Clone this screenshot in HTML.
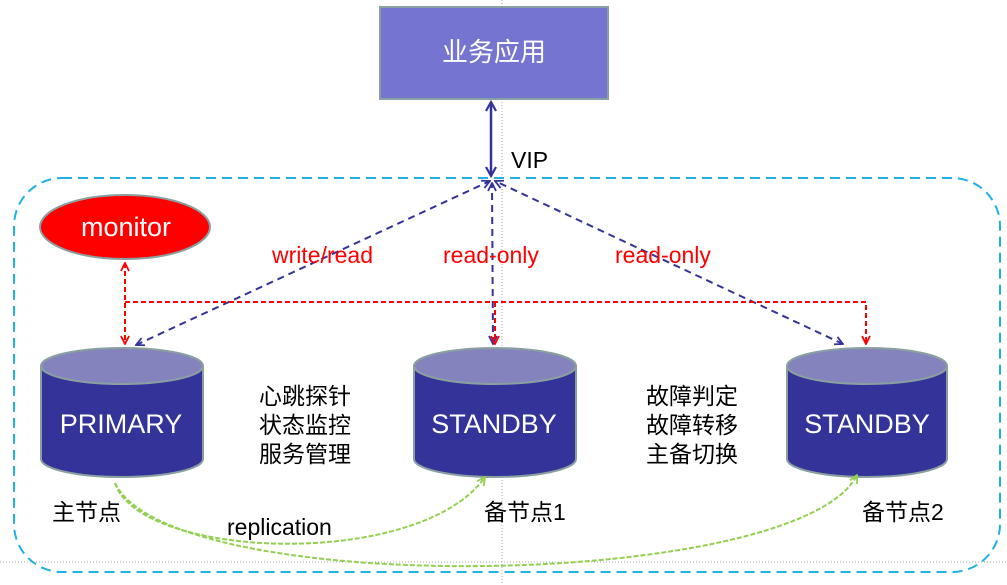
<!DOCTYPE html>
<html><head><meta charset="utf-8"><style>
html,body{margin:0;padding:0;background:#fff;width:1007px;height:585px;overflow:hidden}
svg{display:block}
text{font-family:"Liberation Sans","Noto Sans CJK SC",sans-serif}
</style></head><body>
<svg width="1007" height="585" viewBox="0 0 1007 585" xmlns="http://www.w3.org/2000/svg">
<defs>
<marker id="ob" markerWidth="10" markerHeight="10" refX="9" refY="5" orient="auto-start-reverse" markerUnits="userSpaceOnUse"><path d="M1,1 L9,5 L1,9" fill="none" stroke="#333399" stroke-width="1.8"/></marker>
<marker id="or" markerWidth="10" markerHeight="10" refX="9" refY="5" orient="auto-start-reverse" markerUnits="userSpaceOnUse"><path d="M1,1 L9,5 L1,9" fill="none" stroke="#ff0000" stroke-width="1.8"/></marker>
<marker id="og" markerWidth="10" markerHeight="10" refX="9" refY="5" orient="auto" markerUnits="userSpaceOnUse"><path d="M1,1 L9,5 L1,9" fill="none" stroke="#92d050" stroke-width="1.8"/></marker>
<marker id="os" markerWidth="12" markerHeight="12" refX="10" refY="6" orient="auto-start-reverse" markerUnits="userSpaceOnUse"><path d="M1,1 L10,6 L1,11" fill="none" stroke="#333399" stroke-width="2.2"/></marker>
</defs>
<line x1="502" y1="0" x2="502" y2="585" stroke="#aaa" stroke-width="1" stroke-dasharray="1,2"/>
<line x1="0" y1="562" x2="1007" y2="562" stroke="#aaa" stroke-width="1" stroke-dasharray="1,2"/>
<rect x="14" y="178" width="986" height="394" rx="48" fill="none" stroke="#1fb0e8" stroke-width="2" stroke-dasharray="10,6"/>
<rect x="380" y="7" width="228" height="92" fill="#7574d0" stroke="#8aa0a0" stroke-width="2"/>
<text x="494" y="61" font-size="26" fill="#fff" text-anchor="middle">业务应用</text>
<line x1="491" y1="102" x2="491" y2="176" stroke="#333399" stroke-width="2.5" marker-start="url(#os)" marker-end="url(#os)"/>
<text x="511" y="168" font-size="23" fill="#000">VIP</text>
<g stroke="#333399" stroke-width="2" stroke-dasharray="7,5" fill="none">
<line x1="136" y1="345" x2="490" y2="181" marker-start="url(#ob)" marker-end="url(#ob)"/>
<line x1="493" y1="344" x2="492" y2="183" marker-start="url(#ob)" marker-end="url(#ob)"/>
<line x1="843" y1="344" x2="495" y2="181" marker-start="url(#ob)" marker-end="url(#ob)"/>
</g>
<g stroke="#ff0000" stroke-width="2" stroke-dasharray="5,3" fill="none">
<line x1="125" y1="263" x2="125" y2="344" marker-start="url(#or)" marker-end="url(#or)"/>
<polyline points="125,302 866,302 866,344" marker-end="url(#or)"/>
<line x1="495" y1="302" x2="495" y2="344" marker-end="url(#or)"/>
</g>
<text x="272" y="263" font-size="23" fill="#ff0000">write/read</text>
<text x="443" y="263" font-size="23" fill="#ff0000">read-only</text>
<text x="615" y="263" font-size="23" fill="#ff0000">read-only</text>
<ellipse cx="125" cy="227" rx="85" ry="32" fill="#ff0000" stroke="#8aa0a0" stroke-width="2"/>
<text x="126" y="236" font-size="27" fill="#fff" text-anchor="middle">monitor</text>
<g stroke="#8aa0a0" stroke-width="2">
<path d="M41,366 L41,459 A81,18 0 0 0 203,459 L203,366 Z" fill="#333399"/>
<ellipse cx="122" cy="366" rx="81" ry="18" fill="#8583bd"/>
<path d="M414,366 L414,459 A81,18 0 0 0 576,459 L576,366 Z" fill="#333399"/>
<ellipse cx="495" cy="366" rx="81" ry="18" fill="#8583bd"/>
<path d="M787,366 L787,459 A80,18 0 0 0 947,459 L947,366 Z" fill="#333399"/>
<ellipse cx="867" cy="366" rx="80" ry="18" fill="#8583bd"/>
</g>
<text x="121" y="433" font-size="27" fill="#fff" text-anchor="middle">PRIMARY</text>
<text x="494" y="433" font-size="27" fill="#fff" text-anchor="middle">STANDBY</text>
<text x="867" y="433" font-size="27" fill="#fff" text-anchor="middle">STANDBY</text>
<g font-size="23" fill="#000">
<text x="259" y="404">心跳探针</text>
<text x="259" y="433">状态监控</text>
<text x="259" y="462">服务管理</text>
<text x="646" y="404">故障判定</text>
<text x="646" y="433">故障转移</text>
<text x="646" y="462">主备切换</text>
<text x="52" y="520">主节点</text>
<text x="484" y="520">备节点1</text>
<text x="862" y="520">备节点2</text>
</g>
<text x="227" y="535" font-size="23" fill="#000">replication</text>
<g stroke="#92d050" stroke-width="2" stroke-dasharray="5,2" fill="none">
<path d="M115,483 C140,560 420,570 485,477" marker-end="url(#og)"/>
<path d="M115,483 C170,600 800,590 857,475" marker-end="url(#og)"/>
</g>
</svg>
</body></html>
